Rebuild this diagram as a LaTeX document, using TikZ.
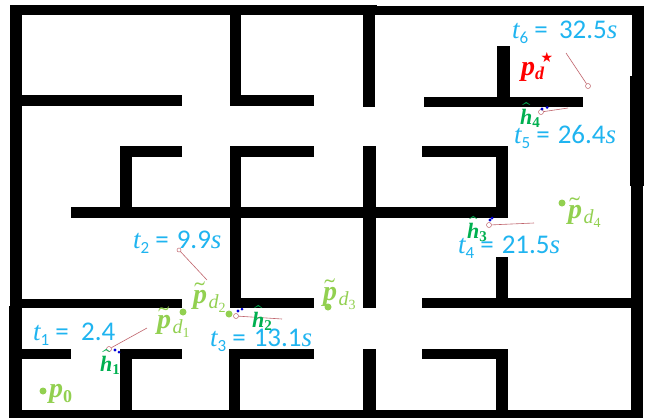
\documentclass[tikz,border=0pt]{standalone}
\usepackage{fontspec}
\usepackage{unicode-math}
\setmainfont{Carlito}
\setmathfont{Latin Modern Math}
\newfontfamily\srf{Liberation Serif}
\newfontfamily\djv{DejaVu Sans}
\definecolor{tblue}{HTML}{1FB4F0}
\definecolor{pgreen}{HTML}{92D050}
\definecolor{hgreen}{HTML}{00B050}
\definecolor{lred}{HTML}{C0646C}
\tikzset{
  wall/.style={fill=black,draw=none},
  tlabel/.style={text=tblue,font=\fontsize{27}{29}\selectfont,inner sep=0pt,anchor=base west},
  plabel/.style={text=pgreen,font=\fontsize{28}{30}\selectfont,inner sep=0pt,anchor=base west},
  hlabel/.style={text=hgreen,font=\fontsize{22}{24}\selectfont,inner sep=0pt,anchor=base west},
  trace/.style={draw=lred,line width=0.6pt},
  ring/.style={circle,draw=lred,line width=0.5pt,minimum size=5pt,inner sep=0pt},
  dotp/.style={circle,fill=pgreen,minimum size=7pt,inner sep=0pt},
  blip/.style={fill=blue!85!black,draw=none}
}
\newcommand{\Rct}[4]{\fill[wall] (#1,#2) rectangle (#3,#4);}
% t label: index, gap after =, value, unit
\newcommand{\Tl}[4]{{\srf\itshape t}\raisebox{-0.22em}{\fontsize{17}{17}\selectfont #1}\hspace{0.22em}=\hspace{#2}#3{\srf\itshape #4}}
\newcommand{\Pt}[2]{\mbox{$\widetilde{\mbox{\srf\bfseries\itshape p}}$}\hspace{0.05em}\raisebox{-0.18em}{\fontsize{20}{20}\selectfont\srf\itshape d\raisebox{-0.2em}{\fontsize{14}{14}\selectfont\upshape #1}}}
\newcommand{\Ht}[1]{\mbox{$\widehat{\mbox{\srf\bfseries\itshape h}}$}\raisebox{-0.18em}{\fontsize{15}{15}\selectfont\srf\bfseries\upshape #1}}
\begin{document}
\begin{tikzpicture}[x=1pt,y=-1pt]
\useasboundingbox (0,0) rectangle (659,418);
\fill[white] (0,0) rectangle (659,418);
% outer
\Rct{10}{5}{377}{15}\Rct{377}{6}{644}{15}
\Rct{10}{5}{22}{307}\Rct{9}{306}{22}{418}
\Rct{9}{409.5}{643}{418}
\Rct{632}{6}{644}{107}\Rct{630}{76}{644}{186}\Rct{631}{186}{643}{418}
% upper left
\Rct{22}{95}{182}{106}
\Rct{230}{14}{241}{106}\Rct{230}{95}{314}{106}
\Rct{363}{14}{375}{107}
% middle
\Rct{120}{146}{182}{157}\Rct{120}{146}{132}{212}
\Rct{230}{146}{314}{157}\Rct{230}{146}{241}{308}
\Rct{363}{146}{376}{308}
\Rct{71}{207}{508}{217.5}
% upper right
\Rct{424}{97}{583}{107}\Rct{497}{46}{510}{97}
\Rct{422}{146}{508}{157}\Rct{496}{146}{508}{217.5}
\Rct{496}{257}{508}{308}\Rct{422}{298}{631}{308}
% lower
\Rct{22}{298.5}{182}{308}
\Rct{230}{298}{314}{308}
\Rct{22}{349}{71}{359}
\Rct{120}{349}{182}{359}\Rct{120}{349}{132}{410}
\Rct{229}{349}{314}{359}\Rct{229}{349}{240}{410}
\Rct{363}{349}{376}{410}
\Rct{422}{349}{508}{359}\Rct{496}{349}{508}{410}
% traces
\node[ring] (r1) at (109,349) {}; \coordinate (e1) at (147,328); \draw[trace] (r1) -- (e1);
\node[ring,minimum size=4pt] (r2) at (179,250) {}; \coordinate (e2) at (207,280); \draw[trace] (r2) -- (e2);
\node[ring] (r3) at (236,316) {}; \coordinate (e3) at (282,319); \draw[trace] (r3) -- (e3);
\node[ring] (r4) at (489,225) {}; \coordinate (e4) at (534,223); \draw[trace] (r4) -- (e4);
\node[ring] (r5) at (541,112) {}; \coordinate (e5) at (568,108); \draw[trace] (r5) -- (e5);
\node[ring] (r6) at (588,86) {}; \coordinate (e6) at (566,53); \draw[trace] (r6) -- (e6);
% blue marks
\fill[blip] (115,350) circle (1.6pt) (119,352) circle (1.5pt);
\fill[blip] (238,311) circle (1.7pt) (242,309) circle (1.5pt);
\fill[blip] (490,220) circle (1.7pt) (492,218) circle (1.5pt);
\fill[blip] (542,109) circle (1.7pt) (547,107.5) circle (1.5pt);
% dots
\node[dotp] (p0) at (43,391) {};
\node[dotp] (d1) at (183,312) {};
\node[dotp] (d2) at (229,314) {};
\node[dotp] (d3) at (328,307) {};
\node[dotp] (d4) at (562,203) {};
% labels
\node[tlabel] (t1) at (33,340) {\Tl{1}{0.46em}{2.4}{}};
\node[tlabel] (t2) at (133,248) {\Tl{2}{0.3em}{9.9}{s}};
\node[tlabel] (t3) at (210,346) {\Tl{3}{0.3em}{13.1}{s}};
\node[tlabel] (t4) at (458,253) {\Tl{4}{0.3em}{21.5}{s}};
\node[tlabel] (t5) at (514,143) {\Tl{5}{0.3em}{26.4}{s}};
\node[tlabel] (t6) at (512,38) {\Tl{6}{0.42em}{32.5}{s}};
\node[plabel] (l0) at (49,397) {{\srf\bfseries\itshape p}\raisebox{-0.2em}{\fontsize{18}{18}\selectfont\srf\bfseries\upshape 0}};
\node[plabel] (l1) at (157,328) {\Pt{1}{}};
\node[plabel] (l2) at (193,303) {\Pt{2}{}};
\node[plabel] (l3) at (323,300) {\Pt{3}{}};
\node[plabel] (l4) at (568,218) {\Pt{4}{}};
\node[hlabel] (h1) at (100,371) {\Ht{1}};
\node[hlabel] (h2) at (252,327) {\Ht{2}};
\node[hlabel] (h3) at (467,238) {\Ht{3}};
\node[hlabel] (h4) at (520,124) {\Ht{4}};
\node[text=red,font=\fontsize{28}{30}\selectfont,inner sep=0pt,anchor=base west] (pd) at (521,75) {{\srf\bfseries\itshape p}\raisebox{-0.16em}{\fontsize{18}{18}\selectfont\srf\bfseries\itshape d}};
\node[text=red,font=\fontsize{14}{14}\selectfont\djv,inner sep=0pt] (star) at (547,57) {★};
\end{tikzpicture}
\end{document}
